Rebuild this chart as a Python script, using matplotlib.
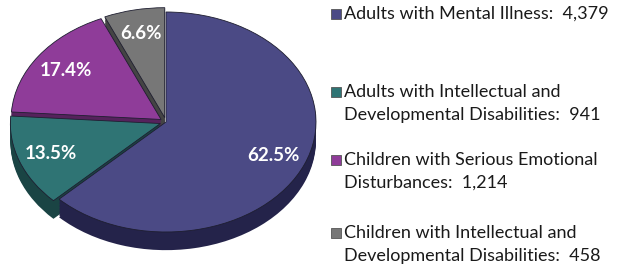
import numpy as np
import matplotlib
matplotlib.use('Agg')
import matplotlib.pyplot as plt
from matplotlib.patches import Rectangle

# data
categories = ["Adults with Mental Illness:  4,379",
              "Adults with Intellectual and\nDevelopmental Disabilities:  941",
              "Children with Serious Emotional\nDisturbances:  1,214",
              "Children with Intellectual and\nDevelopmental Disabilities:  458"]
values = [4379, 941, 1214, 458]
pct_labels = ["62.5%", "13.5%", "17.4%", "6.6%"]

top_colors = ["#4b4a85", "#2f7474", "#8f3c99", "#777777"]
side_colors = ["#24234a", "#1a4444", "#55225c", "#444444"]
explode = [0.0, 0.04, 0.04, 0.04]

plt.rcParams['font.family'] = ['Lato', 'DejaVu Sans']

fig = plt.figure(figsize=(6.25, 2.68), dpi=100)
ax = fig.add_axes([0, 0, 331 / 625, 1])

depth = 0.165
steps = 12
for i in range(steps, 0, -1):
    ax.pie(values, colors=side_colors, explode=explode, startangle=90,
           counterclock=False, center=(0, -depth * i / steps),
           wedgeprops=dict(linewidth=0))

wedges, texts = ax.pie(values, colors=top_colors, explode=explode, startangle=90,
                       counterclock=False, labels=pct_labels, labeldistance=0.78,
                       wedgeprops=dict(linewidth=0.6, edgecolor="#1e1e30"))
for t in texts:
    t.set_color("white")
    t.set_fontweight("bold")
    t.set_fontsize(13.5)
    t.set_ha("center")
    t.set_va("center")

ax.set_aspect('auto')
cx, cy, rx, ry = 166, 122, 150, 110
ax.set_xlim(-cx / rx, (331 - cx) / rx)
ax.set_ylim(-(268 - cy) / ry, cy / ry)
ax.axis('off')

# legend drawn by hand to match spacing
legend_y = [14, 92, 160, 233]  # pixel from top of first line
line_gap = 23
for lab, col, y in zip(categories, top_colors, legend_y):
    yf = 1 - y / 268
    fig.patches.append(Rectangle((331 / 625, yf - 5 / 268), 10 / 625, 10 / 268,
                                 transform=fig.transFigure, facecolor=col,
                                 edgecolor="#555555", linewidth=0.6))
    for k, line in enumerate(lab.split("\n")):
        fig.text(344 / 625, 1 - (y + k * line_gap) / 268, line, fontsize=13,
                 color="#1a1a1a", va="center", ha="left")

fig.savefig("out.png", dpi=100)
